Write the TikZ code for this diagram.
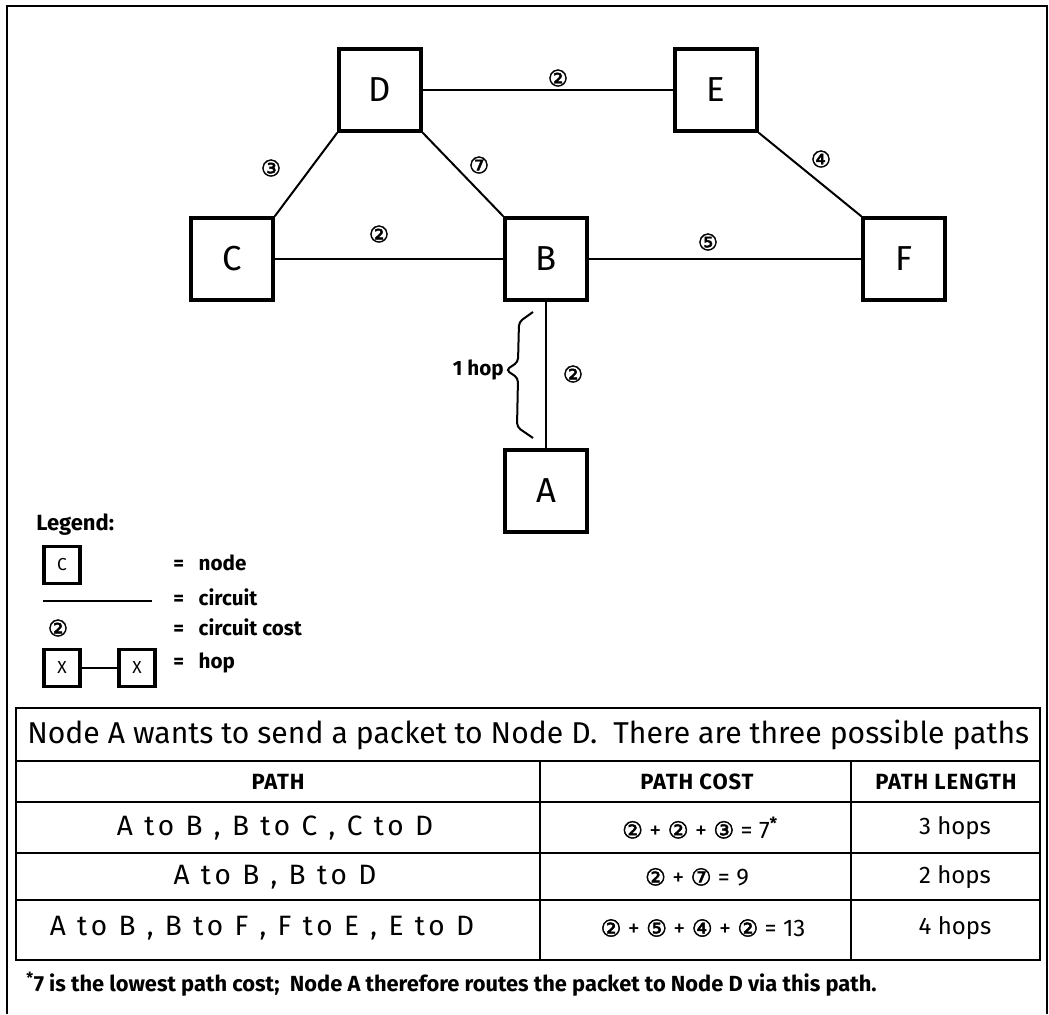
\documentclass[tikz,border=0pt]{standalone}
\usepackage{fontspec}
\setmainfont{Fira Sans}
\newfontfamily\circfont[FakeBold=2]{DejaVu Sans}
\usetikzlibrary{positioning}
\newcommand{\cc}[1]{{\circfont\fontsize{17.5}{17.5}\selectfont #1}}
\tikzset{
  netnode/.style={draw, line width=3.2pt, minimum size=61pt, inner sep=0pt, font=\fontsize{26}{26}\selectfont},
  circuit/.style={line width=1.5pt},
  cost/.style={inner sep=0pt, font=\circfont\fontsize{17}{17}\selectfont},
  legbox/.style={draw, line width=2.5pt, minimum width=27pt, minimum height=28pt, inner sep=0pt, font=\fontsize{13}{13}\selectfont},
  legtext/.style={anchor=west, inner sep=0pt, font=\bfseries\fontsize{15.5}{15.5}\selectfont},
  rule/.style={line width=1.6pt},
  cell/.style={inner sep=0pt, font=\fontsize{18}{18}\selectfont},
  pathcell/.style={inner sep=0pt, font=\addfontfeature{LetterSpace=14}\fontsize{21}{21}\selectfont},
  head/.style={inner sep=0pt, font=\bfseries\addfontfeature{LetterSpace=4}\fontsize{16.5}{16.5}\selectfont},
}
\begin{document}
\begin{tikzpicture}[x=0.75pt, y=-0.75pt]
  \useasboundingbox (0,0) rectangle (1049,1014);
  \draw[line width=1pt] (7,1014) -- (7,6) -- (1047,6) -- (1047,1014);

  % the network
  \node[netnode] (D) at (380,90) {D};
  \node[netnode] (E) at (716,90) {E};
  \node[netnode] (C) at (232,259) {C};
  \node[netnode] (B) at (546,259) {B};
  \node[netnode] (F) at (904,259) {F};
  \node[netnode] (A) at (546,491) {A};

  \draw[circuit] (D) -- (E);
  \draw[circuit] (D.south west) -- (C.north east);
  \draw[circuit] (D.south east) -- (B.north west);
  \draw[circuit] (E.south east) -- (F.north west);
  \draw[circuit] (C) -- (B);
  \draw[circuit] (B) -- (F);
  \draw[circuit] (B) -- (A);

  % circuit costs
  \node[cost] (cDE) at (558,78) {②};
  \node[cost] (cDC) at (271,168) {③};
  \node[cost] (cDB) at (479,165) {⑦};
  \node[cost] (cCB) at (379,234) {②};
  \node[cost] (cBF) at (708,242) {⑤};
  \node[cost] (cEF) at (821,159) {④};
  \node[cost] (cBA) at (573,374) {②};

  % hop brace
  \draw[line width=1.5pt, rounded corners=3pt] (533,312) -- (519,322) -- (518,362) -- (506,370)
    -- (518,378) -- (517,427) -- (533,438);
  \node[legtext, anchor=east] (hop) at (504,370) {1 hop};

  % legend
  \node[legtext, font=\bfseries\fontsize{16.5}{16.5}\selectfont] (leg) at (36,525) {Legend:};
  \node[legbox] (legC) at (62,565) {C};
  \coordinate (cirL) at (43,601);
  \coordinate (cirR) at (152,601);
  \draw[circuit] (cirL) -- (cirR);
  \node[cost] (legcost) at (58,628) {②};
  \node[legbox] (legX1) at (62,668) {X};
  \node[legbox] (legX2) at (137,668) {X};
  \draw[circuit] (legX1) -- (legX2);
  \foreach \y/\txt in {563/node, 597/circuit, 627/circuit cost, 663/hop}
    \node[legtext] at (173,\y) {=\hspace{11pt}\txt};

  % table of paths
  \draw[rule] (16,708) rectangle (1040,960);
  \foreach \y in {761,802,853,900}
    \draw[rule] (16,\y) -- (1040,\y);
  \foreach \x in {540,851}
    \draw[rule] (\x,761) -- (\x,960);
  \node[anchor=west, inner sep=0pt, font=\fontsize{22.6}{22.6}\selectfont] (title) at (27,735)
    {Node A wants to send a packet to Node D.\ \ There are three possible paths};
  \node[head] (hPath) at (278,782) {PATH};
  \node[head] (hCost) at (697,782) {PATH COST};
  \node[head] (hLen) at (946,782) {PATH LENGTH};

  \node[pathcell] (p1) at (275,828) {A to B , B to C , C to D};
  \node[pathcell] (p2) at (275,877) {A to B , B to D};
  \node[pathcell] (p3) at (262,928) {A to B , B to F , F to E , E to D};

  \node[cell] (k1) at (700,828) {\cc{②} + \cc{②} + \cc{③} = 7\textsuperscript{\bfseries *}};
  \node[cell] (k2) at (697,877) {\cc{②} + \cc{⑦} = 9};
  \node[cell] (k3) at (703,928) {\cc{②} + \cc{⑤} + \cc{④} + \cc{②} = 13};

  \node[cell] (l1) at (955,828) {3 hops};
  \node[cell] (l2) at (955,877) {2 hops};
  \node[cell] (l3) at (955,928) {4 hops};

  \node[anchor=west, inner sep=0pt, font=\bfseries\fontsize{16.4}{16.4}\selectfont] (note) at (26,984)
    {\textsuperscript{*}7 is the lowest path cost;\ \ Node A therefore routes the packet to Node D via this path.};
\end{tikzpicture}
\end{document}
